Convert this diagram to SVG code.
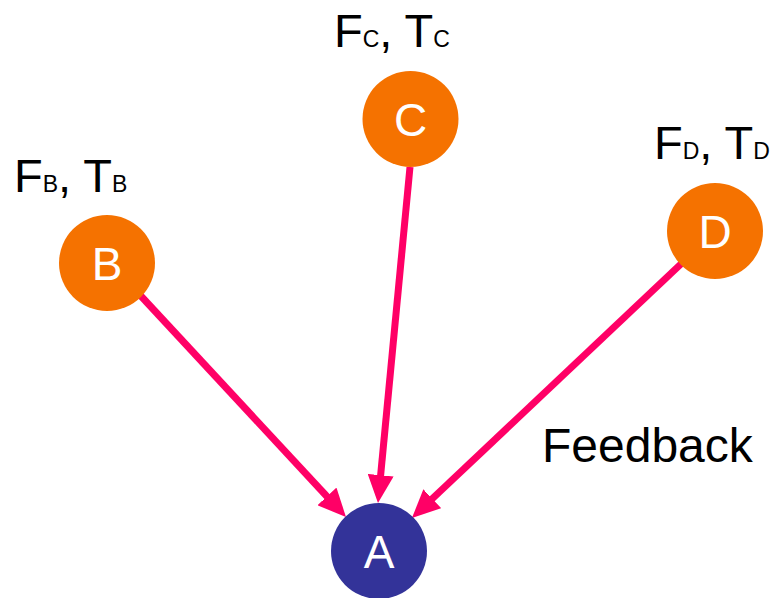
<svg xmlns="http://www.w3.org/2000/svg" width="776" height="598" viewBox="0 0 776 598">
<style>
.src{fill:#F57200}
.dst{fill:#333399}
.nl{font-family:"Liberation Sans",Arial,sans-serif;font-size:46px;fill:#fff;text-anchor:middle}
.lbl{font-family:"Liberation Sans",Arial,sans-serif;font-size:47px;fill:#000}
.fb{font-size:48px}
.sub{font-size:23px}
.edge{stroke:#FF0066;stroke-width:7;fill:none;marker-end:url(#ah)}
</style>
<defs>
<marker id="ah" markerUnits="userSpaceOnUse" markerWidth="28" markerHeight="26" refX="11" refY="13" orient="auto">
<path d="M0,0 L28,13 L0,26 z" fill="#FF0066"/>
</marker>
</defs>
<rect width="776" height="598" fill="#fff"/>
<g id="connectors">
<path class="edge" d="M140,295 L334.4,504.5"/>
<path class="edge" d="M410,167 L379.6,486.1"/>
<path class="edge" d="M682,263 L424.3,506.3"/>
</g>
<g id="node-B">
<circle class="src" cx="107" cy="263" r="48"/>
<text class="nl" x="107" y="280">B</text>
</g>
<g id="node-C">
<circle class="src" cx="410.5" cy="119" r="48"/>
<text class="nl" x="410.5" y="136">C</text>
</g>
<g id="node-D">
<circle class="src" cx="715" cy="231" r="48"/>
<text class="nl" x="715" y="248">D</text>
</g>
<g id="node-A">
<circle class="dst" cx="379" cy="551" r="48"/>
<text class="nl" x="379" y="568">A</text>
</g>
<g id="label-C"><text class="lbl" x="334" y="47">F<tspan class="sub">C</tspan>, T<tspan class="sub">C</tspan></text></g>
<g id="label-B"><text class="lbl" x="14" y="192">F<tspan class="sub">B</tspan>, T<tspan class="sub">B</tspan></text></g>
<g id="label-D"><text class="lbl" x="654" y="159">F<tspan class="sub">D</tspan>, T<tspan class="sub">D</tspan></text></g>
<g id="label-feedback"><text class="lbl fb" x="542" y="462">Feedback</text></g>
</svg>
